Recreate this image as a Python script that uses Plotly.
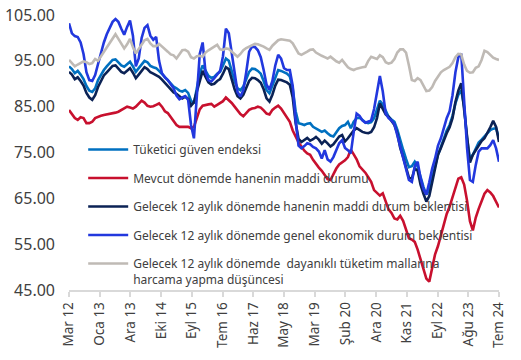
import plotly.graph_objects as go

tick_labels = ["Mar 12", "Oca 13", "Ara 13", "Eki 14", "Eyl 15", "Tem 16", "Haz 17", "May 18",
               "Mar 19", "Şub 20", "Ara 20", "Kas 21", "Eyl 22", "Ağu 23", "Tem 24"]

series_names = [
    "Tüketici güven endeksi",
    "Mevcut dönemde hanenin maddi durumu",
    "Gelecek 12 aylık dönemde hanenin maddi durum beklentisi",
    "Gelecek 12 aylık dönemde genel ekonomik durum beklentisi",
    "Gelecek 12 aylık dönemde  dayanıklı tüketim mallarına<br>harcama yapma düşüncesi",
]

tuketici_guven = [
    93.8, 93.2, 92.3, 92.8, 92.0, 91.0, 89.5, 88.5, 88.2, 89.0, 90.8, 92.0, 93.0, 93.8, 94.5, 95.2,
    95.3, 94.7, 94.0, 93.7, 94.3, 94.8, 93.8, 92.6, 93.4, 94.3, 95.0, 94.7, 93.9, 93.6, 93.4, 92.8,
    92.2, 91.5, 90.8, 90.1, 89.4, 89.0, 88.5, 88.3, 88.6, 88.0, 86.3, 85.7, 89.5, 92.3, 94.0, 92.8,
    91.7, 91.3, 91.5, 92.2, 92.6, 94.0, 95.5, 95.0, 92.8, 90.6, 89.0, 88.6, 89.4, 91.2, 92.6, 93.3,
    93.2, 92.8, 92.2, 90.6, 88.6, 87.9, 89.5, 91.5, 93.0, 92.8, 92.5, 92.2, 91.6, 89.0, 84.0, 81.4,
    81.2, 81.0, 81.3, 81.4, 80.6, 80.3, 79.9, 79.5, 79.8, 79.2, 78.7, 78.5, 79.5, 80.3, 80.8, 81.0,
    81.7, 80.3, 81.7, 82.5, 82.6, 82.0, 81.6, 81.4, 81.6, 82.5, 84.3, 86.3, 85.5, 84.0, 82.8, 82.2,
    81.7, 80.0, 77.6, 75.6, 73.6, 71.8, 72.0, 73.0, 71.9, 69.5, 67.5, 65.8, 66.8, 69.5, 72.3, 74.5,
    76.2, 78.0, 79.8, 81.0, 83.0, 85.7, 87.6, 88.6, 85.0, 78.1, 73.5, 74.5, 75.9, 77.2, 77.8, 78.5,
    79.2, 79.9, 80.2, 80.3, 78.1,
]

mevcut_durum = [
    84.3, 83.5, 82.5, 82.1, 82.7, 82.5, 81.4, 81.4, 81.7, 82.5, 82.8, 83.0, 83.2, 83.3, 83.5, 83.6,
    83.7, 83.9, 84.3, 84.6, 85.0, 84.8, 84.6, 85.0, 85.6, 86.3, 85.9, 85.2, 85.0, 85.1, 85.4, 85.7,
    85.0, 84.0, 83.6, 82.7, 81.9, 81.0, 80.6, 80.6, 80.5, 80.6, 80.3, 80.6, 82.5, 84.4, 85.2, 85.4,
    85.5, 85.6, 85.0, 85.4, 85.8, 86.2, 87.0, 86.5, 85.8, 85.0, 84.2, 83.4, 82.9, 83.6, 84.3, 84.6,
    84.7, 85.0, 84.8, 84.2, 83.5, 83.3, 84.3, 84.8, 85.2, 84.6, 83.6, 82.6, 81.7, 79.8, 78.4, 77.2,
    76.3, 75.4, 74.8, 74.5, 73.4, 72.5, 71.7, 71.0, 70.0, 69.2, 69.0, 70.3, 71.5, 72.4, 72.8, 73.3,
    74.0, 75.6, 74.6, 73.5, 72.0, 71.4, 70.6, 69.6, 68.6, 66.8, 66.1, 65.6, 66.1, 64.2, 62.6, 61.8,
    60.6, 60.4, 61.2, 60.1, 58.0, 56.3, 56.0, 55.5, 53.8, 51.8, 49.4, 47.5, 46.8, 49.5, 52.8, 54.6,
    57.0, 59.6, 61.6, 63.2, 65.2, 67.5, 69.3, 69.6, 68.0, 64.5, 60.0, 58.0, 60.8, 62.7, 64.6, 66.0,
    66.8, 66.3, 65.5, 64.1, 63.0,
]

hane_beklenti = [
    92.6, 92.0, 91.0, 91.4, 90.6, 89.6, 88.0, 87.0, 86.5, 87.5, 89.3, 90.7, 91.8, 92.5, 93.2, 93.9,
    94.0, 93.4, 92.6, 92.3, 92.9, 93.4, 92.4, 91.2, 92.0, 92.8, 93.6, 93.2, 92.5, 92.2, 91.9, 91.5,
    90.9, 90.2, 89.5, 88.7, 88.1, 87.8, 87.2, 86.8, 87.2, 86.7, 85.2, 86.0, 88.3, 90.6, 92.8, 91.5,
    90.3, 89.8, 90.0, 90.6, 91.0, 92.2, 93.6, 93.2, 91.0, 88.8, 87.3, 86.8, 87.6, 89.2, 90.6, 91.3,
    91.2, 90.8, 90.2, 88.8, 86.8, 86.1, 87.6, 89.6, 90.9, 90.8, 90.6, 90.3, 89.8, 87.0, 81.5, 78.0,
    77.3, 77.8, 78.2, 77.6, 77.9, 78.4, 77.8, 76.9, 77.6, 77.0, 76.3, 76.8, 77.7, 78.5, 78.8, 77.4,
    78.1, 79.0, 79.8, 80.3, 79.9, 79.5, 79.3, 79.2, 79.5, 80.5, 82.5, 85.7, 84.5, 83.3, 82.8, 82.0,
    81.0, 79.2, 76.0, 74.0, 72.0, 69.5, 69.3, 71.5, 71.0, 68.0, 66.0, 64.3, 65.5, 68.5, 71.5, 74.5,
    76.0, 77.8, 79.2, 80.5, 82.5, 86.0, 88.5, 90.1, 84.5, 77.5, 72.8, 74.5, 75.5, 76.6, 77.5, 78.1,
    79.2, 80.5, 81.9, 80.6, 77.3,
]

genel_ekonomik = [
    103.2, 101.0, 100.4, 100.2, 99.0, 96.5, 92.5, 90.8, 90.6, 91.9, 94.3, 97.0, 99.0, 100.8, 102.3, 103.5,
    104.1, 103.5, 102.0, 100.7, 102.4, 103.8, 100.5, 93.8, 95.5, 100.0, 102.2, 102.8, 100.5, 99.6, 100.2, 95.0,
    92.3, 91.4, 90.8, 90.0, 89.0, 87.4, 86.6, 87.0, 87.3, 86.5, 81.0, 78.1, 86.5, 96.5, 99.0, 92.5,
    90.8, 90.5, 91.2, 91.9, 92.8, 96.0, 102.0, 101.0, 97.0, 92.0, 88.2, 87.2, 88.6, 92.5, 97.0, 98.1,
    98.0, 97.3, 95.8, 93.0, 89.8, 88.7, 90.6, 94.0, 96.3, 95.5, 93.4, 93.0, 93.0, 89.5, 82.0, 76.5,
    75.9, 76.4, 77.0, 76.8, 76.2, 75.9, 75.2, 73.7, 75.5, 73.5, 73.0, 74.0, 75.5, 77.0, 77.7, 76.0,
    75.5, 74.8, 79.5, 83.5, 83.0, 82.0, 81.5, 81.7, 82.0, 84.5, 88.0, 91.7, 88.3, 83.5, 82.5, 82.0,
    81.2, 78.8, 76.0, 73.7, 71.5, 69.0, 68.6, 72.0, 73.0, 69.4, 67.0, 65.8, 68.5, 71.5, 73.7, 76.5,
    78.1, 80.5, 82.5, 84.0, 87.5, 92.5, 95.8, 96.6, 86.0, 76.0, 69.0, 68.6, 72.3, 75.2, 75.9, 75.9,
    75.9, 76.6, 77.7, 75.9, 73.0,
]

dayanikli_harcama = [
    95.2, 94.5, 93.8, 94.2, 94.6, 94.9, 94.7, 94.3, 94.5, 95.4, 95.0, 96.0, 96.8, 98.0, 99.0, 100.0,
    100.8, 99.8, 98.6, 97.7, 98.6, 99.8, 98.0, 96.6, 97.6, 98.6, 99.5, 99.8, 98.8, 98.2, 98.2, 98.7,
    98.2, 97.6, 97.0, 96.4, 96.2, 95.5, 96.5, 97.3, 97.4, 97.0, 95.8, 95.5, 96.0, 96.1, 95.9, 96.8,
    97.3, 97.8, 98.1, 98.5, 97.5, 97.4, 97.7, 97.6, 97.0, 96.4, 95.9, 96.5, 97.3, 97.8, 98.1, 98.5,
    98.7, 98.6, 98.4, 98.1, 97.7, 97.4, 98.3, 99.0, 99.5, 99.7, 99.6, 99.5, 99.4, 98.8, 97.6, 96.6,
    96.3, 96.6, 97.0, 97.4, 97.5, 96.8, 96.4, 96.1, 95.8, 95.5, 95.9, 95.3, 94.9, 94.6, 95.2, 94.4,
    93.6, 93.2, 93.0, 93.3, 93.5, 93.6, 93.7, 95.0, 95.9, 95.6, 95.4, 96.2, 95.8, 94.7, 94.4, 94.6,
    95.4, 96.8, 97.5, 97.5, 96.8, 94.0, 90.8, 90.6, 91.2, 90.8, 89.6, 88.4, 88.5, 89.3, 90.6, 91.6,
    92.5, 93.0, 93.4, 93.7, 94.5, 95.8, 96.5, 96.4, 94.2, 92.8, 92.4, 92.5, 93.5, 93.8, 95.2, 97.2,
    96.9, 96.2, 95.7, 95.4, 95.2,
]

colors = ["#0070C0", "#C8102E", "#0B2255", "#2238DE", "#BFBAB5"]
all_series = [tuketici_guven, mevcut_durum, hane_beklenti, genel_ekonomik, dayanikli_harcama]

n_months = len(tuketici_guven)
x_idx = list(range(n_months))
tick_pos = [k * (n_months - 1) / (len(tick_labels) - 1) for k in range(len(tick_labels))]

font_family = "Noto Sans, Open Sans, DejaVu Sans, sans-serif"

fig = go.Figure()
for k, (name, vals, col) in enumerate(zip(series_names, all_series, colors)):
    fig.add_trace(go.Scatter(
        x=x_idx, y=vals, mode="lines", name=name,
        line=dict(color=col, width=2.6),
        legendgroup=f"g{k}",
        hoverinfo="skip",
    ))

fig.update_layout(
    width=521, height=360,
    margin=dict(l=69, r=22, t=15, b=70, autoexpand=False),
    paper_bgcolor="white", plot_bgcolor="white",
    font=dict(family=font_family, color="#404040"),
    showlegend=True,
    legend=dict(
        x=0.033, y=0.563, xanchor="left", yanchor="top",
        bgcolor="rgba(0,0,0,0)",
        font=dict(size=12, color="#404040", family=font_family),
        tracegroupgap=9.5, itemwidth=40, valign="top",
        traceorder="grouped",
    ),
)
fig.update_xaxes(
    range=[0, n_months - 1], tickmode="array", tickvals=tick_pos, ticktext=tick_labels,
    tickangle=-90, showgrid=False, zeroline=False, automargin=False,
    showline=True, linecolor="#D9D9D9", linewidth=1.5,
    ticks="outside", ticklen=5, tickcolor="#D9D9D9", tickwidth=1.5,
    tickfont=dict(size=13.5, color="#404040"),
)
fig.update_yaxes(
    range=[45, 105], tick0=45, dtick=10, tickformat=".2f", automargin=False,
    showgrid=False, zeroline=False, showline=False, ticks="",
    tickfont=dict(size=16, color="#404040"),
    ticklabelstandoff=13,
)

fig.write_html(
    "out.html",
    config={"displayModeBar": False},
    post_script="document.body.style.margin='0px';document.body.style.padding='0px';",
)
